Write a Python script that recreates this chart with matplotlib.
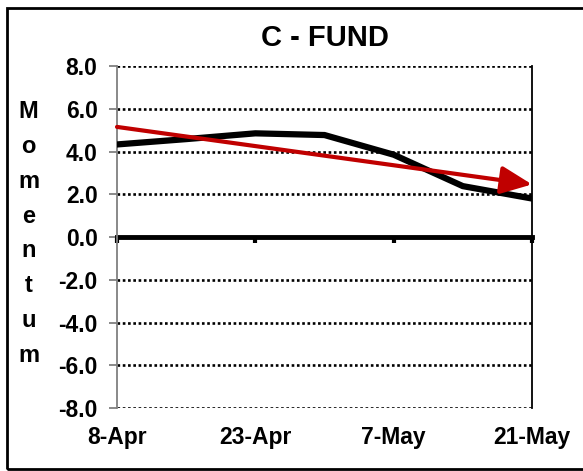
import matplotlib
matplotlib.use("Agg")
import matplotlib.pyplot as plt
from matplotlib.patches import Rectangle

plt.rcParams["font.family"] = ["Liberation Sans", "DejaVu Sans"]
plt.rcParams["font.weight"] = "bold"

# weekly momentum readings
dates = ["8-Apr", "15-Apr", "23-Apr", "30-Apr", "7-May", "14-May", "21-May"]
momentum = [4.33, 4.58, 4.85, 4.77, 3.85, 2.38, 1.80]
# red trend arrow: start / end values
trend_x = [0, 6]
trend_y = [5.15, 2.46]
y_ticks = [-8, -6, -4, -2, 0, 2, 4, 6, 8]
ylabel_letters = list("Momentum")

W, H = 583, 471
fig = plt.figure(figsize=(W / 100, H / 100), dpi=100)
ax = fig.add_axes([117 / W, 1 - 408 / H, (532 - 117) / W, (408 - 66) / H])

x = list(range(len(dates)))
ax.set_xlim(0, len(dates) - 1)
ax.set_ylim(-8, 8)

# dotted gridlines (skip zero, which is the heavy axis)
for yv in y_ticks:
    if yv != 0:
        ax.axhline(yv, color="black", lw=1.9, ls=(0, (1, 1)), zorder=1)

ax.plot(x, momentum, color="black", lw=4.5, solid_joinstyle="miter", zorder=3)
ax.annotate("", xy=(trend_x[1], trend_y[1]), xytext=(trend_x[0], trend_y[0]),
            arrowprops=dict(arrowstyle="-|>,head_length=1.9,head_width=0.85",
                            color="#c00000", lw=3, mutation_scale=10,
                            shrinkA=0, shrinkB=0),
            annotation_clip=False, zorder=4)

ax.set_yticks(y_ticks)
ax.set_yticklabels([f"{v:.1f}" for v in y_ticks], fontsize=16.5, fontweight="bold")
ax.tick_params(axis="y", direction="out", length=6, width=1.3, color="#808080", pad=8)

ax.spines["top"].set_visible(False)
ax.spines["left"].set_color("#808080")
ax.spines["left"].set_linewidth(1.3)
ax.spines["right"].set_color("black")
ax.spines["right"].set_linewidth(1.3)
ax.spines["bottom"].set_position(("data", 0))
ax.spines["bottom"].set_linewidth(3.5)
ax.spines["bottom"].set_zorder(2)

ax.set_xticks(x[::2])
ax.tick_params(axis="x", direction="out", length=4.5, width=3, color="black",
               labelbottom=False)

sec = ax.secondary_xaxis("bottom")
sec.set_xticks(x[::2])
sec.set_xticklabels(dates[::2], fontsize=16.5, fontweight="bold")
sec.tick_params(length=0, pad=13)
sec.spines["bottom"].set_visible(False)

fig.text((117 + 532) / 2 / W, 1 - 46 / H, "C - FUND", ha="center", va="baseline",
         fontsize=21, fontweight="bold")

for i, ch in enumerate(ylabel_letters):
    yc = 112 + i * (355 - 112) / (len(ylabel_letters) - 1)
    fig.text(28.5 / W, 1 - yc / H, ch, ha="center", va="center",
             fontsize=17, fontweight="bold")

fig.patches.append(Rectangle((6.5 / W, 2.5 / H), 1.2, 1 - 10 / H, transform=fig.transFigure,
                             fill=False, edgecolor="black", lw=2))

fig.savefig("out.png", dpi=100)
